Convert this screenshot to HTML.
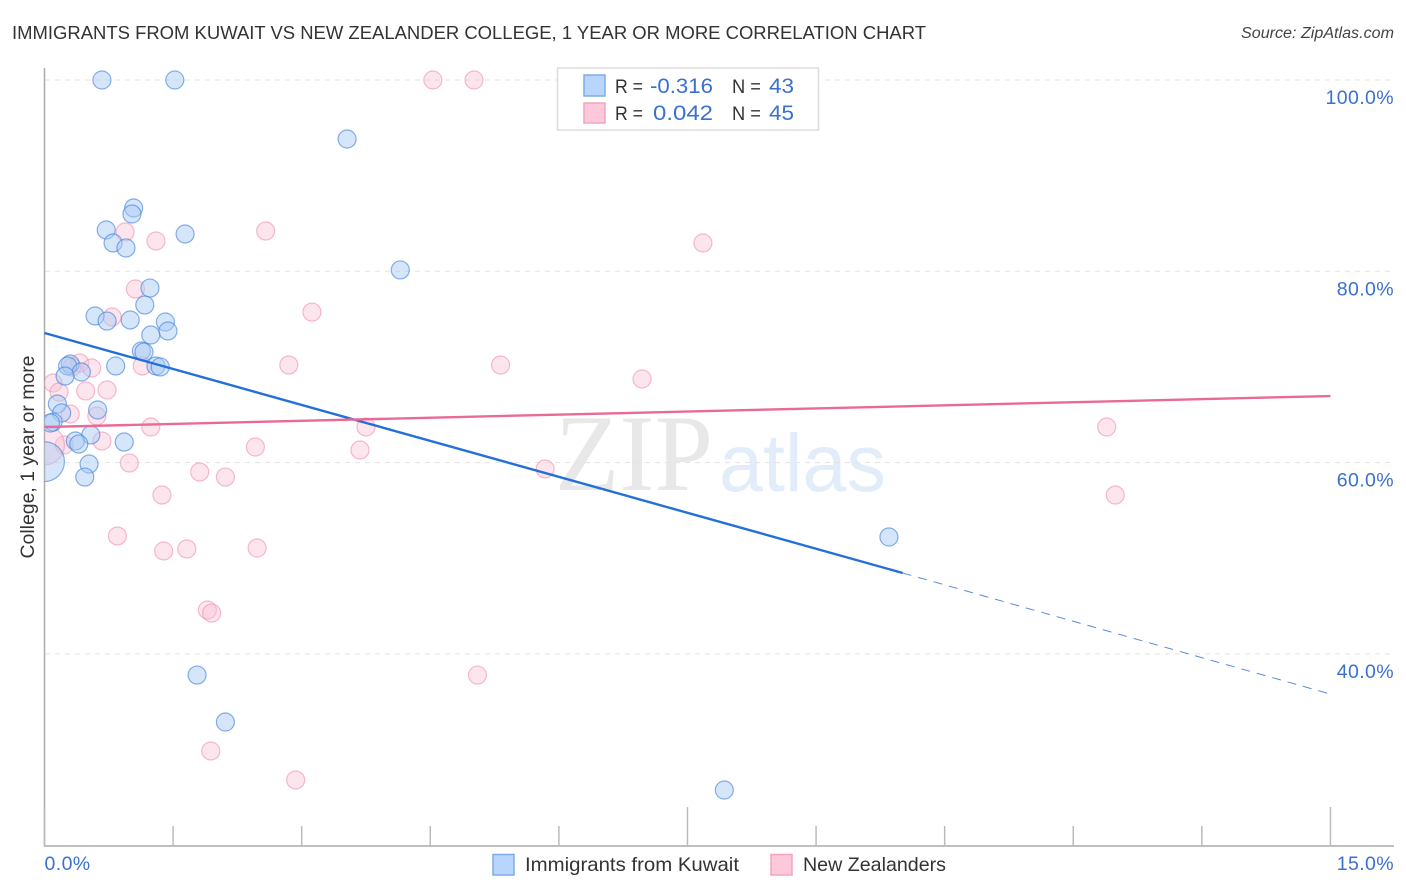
<!DOCTYPE html>
<html>
<head>
<meta charset="utf-8">
<title>Immigrants from Kuwait vs New Zealander College Correlation Chart</title>
<style>
html,body{margin:0;padding:0;background:#fff;width:1406px;height:892px;overflow:hidden}
svg{display:block;font-family:"Liberation Sans",sans-serif}
</style>
</head>
<body>
<svg id="chart" width="1406" height="892" viewBox="0 0 1406 892" xmlns="http://www.w3.org/2000/svg">
  <defs><clipPath id="plot-clip"><rect x="44.5" y="60" width="1350" height="786"/></clipPath></defs>
  <text x="12" y="39" font-size="18.5" fill="#333333" textLength="914" lengthAdjust="spacingAndGlyphs">IMMIGRANTS FROM KUWAIT VS NEW ZEALANDER COLLEGE, 1 YEAR OR MORE CORRELATION CHART</text>
  <text x="1241" y="38" font-size="15.5" font-style="italic" fill="#444" textLength="153" lengthAdjust="spacingAndGlyphs">Source: ZipAtlas.com</text>
  <text x="555" y="490" font-family="'Liberation Serif',serif" font-size="109" fill="#e8e8e8" textLength="158" lengthAdjust="spacingAndGlyphs">ZIP</text>
  <text x="719" y="491" font-size="82" fill="#e3edfa" textLength="167" lengthAdjust="spacingAndGlyphs">atlas</text>
  <g id="grid"></g>
  <g id="axes"></g>
  <g id="points" clip-path="url(#plot-clip)"></g>
  <g id="trends"></g>
  <text x="34" y="457" font-size="19" fill="#333333" text-anchor="middle" transform="rotate(-90 34 457)" textLength="203" lengthAdjust="spacingAndGlyphs">College, 1 year or more</text>

  <g>
    <rect x="557.5" y="68" width="261" height="62" fill="#fff" stroke="#dddddd" stroke-width="1.5"/>
    <rect x="584" y="75" width="21" height="21" fill="#b9d5fb" stroke="#7fabe6" stroke-width="1.5"/>
    <rect x="584" y="103" width="21" height="20" fill="#fdc8d9" stroke="#f3a5bd" stroke-width="1.5"/>
    <text x="615" y="93" font-size="19.5" fill="#333" textLength="28" lengthAdjust="spacingAndGlyphs">R =</text>
    <text x="650" y="93" font-size="21" fill="#3a70d0" textLength="63" lengthAdjust="spacingAndGlyphs">-0.316</text>
    <text x="732" y="93" font-size="19.5" fill="#333" textLength="29" lengthAdjust="spacingAndGlyphs">N =</text>
    <text x="769" y="93" font-size="21" fill="#3a70d0" textLength="25" lengthAdjust="spacingAndGlyphs">43</text>
    <text x="615" y="120" font-size="19.5" fill="#333" textLength="28" lengthAdjust="spacingAndGlyphs">R =</text>
    <text x="653" y="120" font-size="21" fill="#3a70d0" textLength="60" lengthAdjust="spacingAndGlyphs">0.042</text>
    <text x="732" y="120" font-size="19.5" fill="#333" textLength="29" lengthAdjust="spacingAndGlyphs">N =</text>
    <text x="769" y="120" font-size="21" fill="#3a70d0" textLength="25" lengthAdjust="spacingAndGlyphs">45</text>
  </g>

  <g>
    <rect x="493" y="854.5" width="21" height="20.5" fill="#b9d5fb" stroke="#7fabe6" stroke-width="1.5"/>
    <text x="525" y="871" font-size="19.5" fill="#333333" textLength="214" lengthAdjust="spacingAndGlyphs">Immigrants from Kuwait</text>
    <rect x="771" y="854.5" width="21" height="20.5" fill="#fdc8d9" stroke="#f3a5bd" stroke-width="1.5"/>
    <text x="803" y="871" font-size="19.5" fill="#333333" textLength="143" lengthAdjust="spacingAndGlyphs">New Zealanders</text>
  </g>
</svg>
<script>
var yTickValues = [100, 80, 60, 40];
var yTickLabels = ["100.0%", "80.0%", "60.0%", "40.0%"];
var xTickValues = [0, 1.5, 3, 4.5, 6, 7.5, 9, 10.5, 12, 13.5, 15];
var xMajorTicks = [0, 7.5, 15];
var xEdgeValues = [0, 15];
var xEdgeLabels = ["0.0%", "15.0%"];

var kuwaitX = [0.67,1.52,3.53,1.04,1.02,0.72,1.64,0.80,0.95,4.15,1.23,1.17,0.59,1.00,0.73,1.41,1.44,1.24,1.13,1.16,0.30,0.27,0.83,1.30,1.35,0.43,0.24,0.15,0.20,0.62,0.10,0.07,0.54,0.36,0.40,0.93,0.52,0.47,0.0,9.85,1.78,2.11,7.93];
var kuwaitY = [100,100,93.83,86.62,85.99,84.32,83.90,82.96,82.44,80.14,78.25,76.48,75.33,74.91,74.80,74.70,73.76,73.34,71.67,71.56,70.31,70.10,70.10,70.10,70.00,69.47,69.05,66.13,65.19,65.50,64.24,64.14,62.89,62.26,61.94,62.15,59.85,58.49,60.10,52.22,37.79,32.88,25.77];
var kuwaitWeight = [1,1,1,1,1,1,1,1,1,1,1,1,1,1,1,1,1,1,1,1,1,1,1,1,1,1,1,1,1,1,1,1,1,1,1,1,1,1,4.9,1,1,1,1];

var zealandX = [4.53,5.01,2.58,0.94,1.30,7.68,1.06,3.12,0.79,1.14,2.85,5.32,0.41,0.32,0.55,6.97,0.10,0.17,0.48,0.73,0.30,0.61,1.24,3.75,12.39,0.67,0.23,2.46,3.68,0.99,5.84,1.81,2.11,1.37,12.49,0.85,1.39,1.66,2.48,1.90,1.95,5.05,1.94,2.93,0.0];
var zealandY = [100,100,84.21,84.11,83.17,82.96,78.15,75.74,75.22,70.10,70.20,70.20,70.41,69.99,69.89,68.74,68.32,67.38,67.49,67.59,65.08,64.87,63.72,63.72,63.72,62.26,61.84,61.63,61.32,59.96,59.33,59.02,58.49,56.61,56.61,52.33,50.76,50.97,51.07,44.59,44.27,37.79,29.85,26.82,61.84];
var zealandWeight = [1,1,1,1,1,1,1,1,1,1,1,1,1,1,1,1,1,1,1,1,1,1,1,1,1,1,1,1,1,1,1,1,1,1,1,1,1,1,1,1,1,1,1,1,4.9];

var kuwaitTrendX = [0, 10.01, 15];
var kuwaitTrendY = [73.55, 48.46, 35.8];
var zealandTrendX = [0, 15];
var zealandTrendY = [63.72, 66.96];

var NS = "http://www.w3.org/2000/svg";
function xScale(v){ return 44.5 + v * 85.73; }
function yScale(v){ return 80 + (100 - v) * 9.565; }
function rScale(w){ return 9 * Math.sqrt(w); }
function make(tag, attrs, parent){
  var el = document.createElementNS(NS, tag);
  for (var k in attrs) el.setAttribute(k, attrs[k]);
  parent.appendChild(el);
  return el;
}

var grid = document.getElementById("grid");
var axes = document.getElementById("axes");
var pointsG = document.getElementById("points");
var trends = document.getElementById("trends");

yTickValues.forEach(function(v, i){
  var line = make("line", {x1:45, x2:1394, y1:yScale(v), y2:yScale(v), stroke:"#e2e2e2", "stroke-width":1, "stroke-dasharray":"5 5"}, grid);
  
  
  var label = make("text", {x:1394, y:yScale(v)+24, "font-size":19.5, "letter-spacing":"0.4", fill:"#3a70d0", "text-anchor":"end"}, axes);
  
  
  label.textContent = yTickLabels[i];
});

var yAxis = make("line", {x1:44.5, x2:44.5, y1:68, y2:846, stroke:"#aaaaaa", "stroke-width":1.5}, axes);


var xAxis = make("line", {x1:44, x2:1394, y1:846, y2:846, stroke:"#aaaaaa", "stroke-width":1.5}, axes);



xTickValues.forEach(function(v){
  var major = xMajorTicks.indexOf(v) >= 0;
  var tick = make("line", {x1:xScale(v), x2:xScale(v), y1:major ? 807 : 826, y2:846, stroke:"#bbbbbb", "stroke-width":1.5}, axes);
  
  
});

xEdgeValues.forEach(function(v, i){
  var label = make("text", {x:i === 0 ? xScale(v) : 1394, y:870, "font-size":19.5, "letter-spacing":"0.4", fill:"#3a70d0", "text-anchor":i === 0 ? "start" : "end"}, axes);
  
  
  label.textContent = xEdgeLabels[i];
});

zealandX.forEach(function(v, i){
  var c = make("circle", {cx:xScale(v), cy:yScale(zealandY[i]), r:rScale(zealandWeight[i]), fill:"#fbc0d3", "fill-opacity":0.42, stroke:"#ef8fae", "stroke-opacity":0.6, "stroke-width":1.2}, pointsG);
  
  
});
kuwaitX.forEach(function(v, i){
  var c = make("circle", {cx:xScale(v), cy:yScale(kuwaitY[i]), r:rScale(kuwaitWeight[i]), fill:"#a9caf5", "fill-opacity":0.48, stroke:"#3f80dc", "stroke-opacity":0.62, "stroke-width":1.2}, pointsG);
  
  
});

var kSolid = make("line", {x1:xScale(kuwaitTrendX[0]), y1:yScale(kuwaitTrendY[0]), x2:xScale(kuwaitTrendX[1]), y2:yScale(kuwaitTrendY[1]), stroke:"#2270d8", "stroke-width":2.4}, trends);


var kDash = make("line", {x1:xScale(kuwaitTrendX[1]), y1:yScale(kuwaitTrendY[1]), x2:xScale(kuwaitTrendX[2]), y2:yScale(kuwaitTrendY[2]), stroke:"#5a8cd6", "stroke-width":1, "stroke-dasharray":"9 7"}, trends);


var zLine = make("line", {x1:xScale(zealandTrendX[0]), y1:yScale(zealandTrendY[0]), x2:xScale(zealandTrendX[1]), y2:yScale(zealandTrendY[1]), stroke:"#ea6a97", "stroke-width":2.4}, trends);


</script>
</body>
</html>
